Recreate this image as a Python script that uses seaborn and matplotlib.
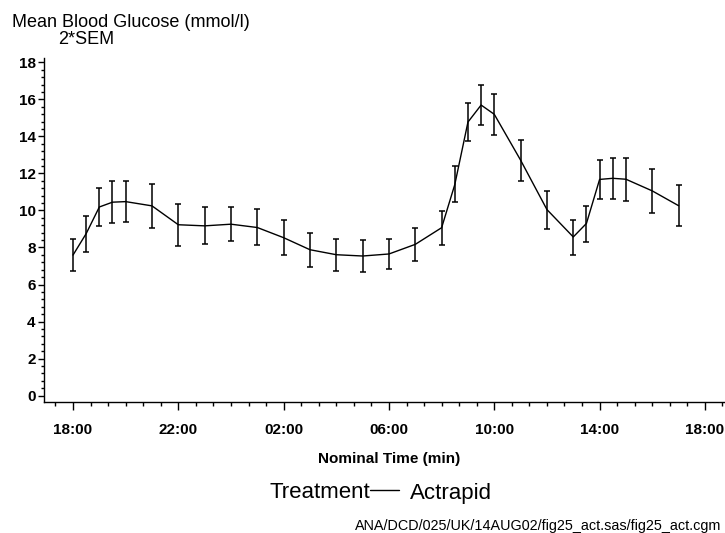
import matplotlib
matplotlib.use("Agg")
import matplotlib.pyplot as plt
import seaborn as sns
import numpy as np
import pandas as pd
from matplotlib.lines import Line2D
from matplotlib.ticker import MultipleLocator

# Hours after 18:00
hours = [0, 0.5, 1, 1.5, 2, 3, 4, 5, 6, 7, 8, 9, 10, 11, 12, 13, 14, 14.5,
         15, 15.5, 16, 17, 18, 19, 19.5, 20, 20.5, 21, 22, 23]
glucose_mean = [7.59, 8.75, 10.19, 10.45, 10.48, 10.25, 9.23, 9.17, 9.26, 9.08,
                8.53, 7.88, 7.61, 7.54, 7.65, 8.17, 9.07, 11.40, 14.78, 15.70,
                15.20, 12.72, 10.05, 8.57, 9.30, 11.68, 11.74, 11.69, 11.06, 10.26]
glucose_low = [6.73, 7.77, 9.15, 9.32, 9.36, 9.04, 8.10, 8.19, 8.35, 8.12,
               7.61, 6.95, 6.73, 6.69, 6.84, 7.29, 8.15, 10.45, 13.77, 14.64,
               14.08, 11.59, 9.00, 7.59, 8.31, 10.62, 10.64, 10.51, 9.88, 9.15]
glucose_high = [8.44, 9.72, 11.23, 11.58, 11.61, 11.45, 10.37, 10.17, 10.19, 10.06,
                9.46, 8.80, 8.48, 8.39, 8.46, 9.04, 9.99, 12.38, 15.79, 16.77,
                16.31, 13.83, 11.06, 9.50, 10.26, 12.71, 12.84, 12.86, 12.26, 11.36]
xtick_pos = [0, 4, 8, 12, 16, 20, 24]
xtick_labels = ["18:00", "22:00", "02:00", "06:00", "10:00", "14:00", "18:00"]
ytick_pos = [0, 2, 4, 6, 8, 10, 12, 14, 16, 18]

df = pd.DataFrame({"hours": hours, "mean": glucose_mean,
                   "low": glucose_low, "high": glucose_high})

sns.set_style("ticks")
plt.rcParams["font.family"] = ["Liberation Sans", "DejaVu Sans"]
plt.rcParams["text.color"] = "black"
plt.rcParams["xtick.color"] = "black"
plt.rcParams["ytick.color"] = "black"
plt.rcParams["axes.edgecolor"] = "black"

fig = plt.figure(figsize=(7.25, 5.33), dpi=100)
ax = fig.add_axes([44/725, 1-402/533, (725-44)/725, (402-58)/533])

sns.lineplot(data=df, x="hours", y="mean", ax=ax, color="black", linewidth=1.0,
             errorbar=None, legend=False)
ax.errorbar(df["hours"], df["mean"],
            yerr=[df["mean"] - df["low"], df["high"] - df["mean"]],
            fmt="none", ecolor="black", elinewidth=1.1, capsize=2.5, capthick=1.1)

ax.set_xlim(-29/26.33, (725-73)/26.33)
ax.set_ylim(-(402-395.5)/18.5, (395.5-58)/18.5)

ax.set_xticks(xtick_pos)
ax.set_xticklabels(xtick_labels)
ax.xaxis.set_minor_locator(MultipleLocator(2/3))
ax.set_yticks(ytick_pos)
ax.yaxis.set_minor_locator(MultipleLocator(0.4))

bold_font = ["Liberation Sans", "DejaVu Sans"]
for lab in ax.get_xticklabels() + ax.get_yticklabels():
    lab.set_fontfamily(bold_font)
    lab.set_fontweight("bold")
    lab.set_fontsize(11)
    lab.set_color("black")

ax.tick_params(axis="x", which="major", length=6, width=1, pad=9)
ax.tick_params(axis="x", which="minor", length=3, width=1)
ax.tick_params(axis="y", which="major", length=4, width=1, pad=2)
ax.tick_params(axis="y", which="minor", length=2, width=1)

for s in ["top", "right"]:
    ax.spines[s].set_visible(False)
for s in ["left", "bottom"]:
    ax.spines[s].set_linewidth(1)
    ax.spines[s].set_color("black")

ax.set_xlabel("")
ax.set_ylabel("")

fig.text(12/725, 1-22/533, "Mean Blood Glucose (mmol/l)", fontsize=13,
         ha="left", va="center", color="black")
fig.text(58/725, 1-40/533, "2*SEM", fontsize=13, ha="left", va="center",
         color="black")

fig.text(389/725, 1-459/533, "Nominal Time (min)", fontsize=11,
         fontfamily=bold_font, fontweight="bold", ha="center", va="center",
         color="black")

fig.text(370/725, 1-493/533, "Treatment", fontsize=16, ha="right", va="center",
         color="black")
fig.add_artist(Line2D([370/725, 399/725], [1-490/533, 1-490/533],
                      transform=fig.transFigure, color="black", linewidth=1))
fig.text(410/725, 1-493/533, "Actrapid", fontsize=16, ha="left", va="center",
         color="black")

fig.text(721/725, 1-526/533, "ANA/DCD/025/UK/14AUG02/fig25_act.sas/fig25_act.cgm",
         fontsize=10.4, ha="right", va="center", color="black")

fig.savefig("out.png", dpi=100)
